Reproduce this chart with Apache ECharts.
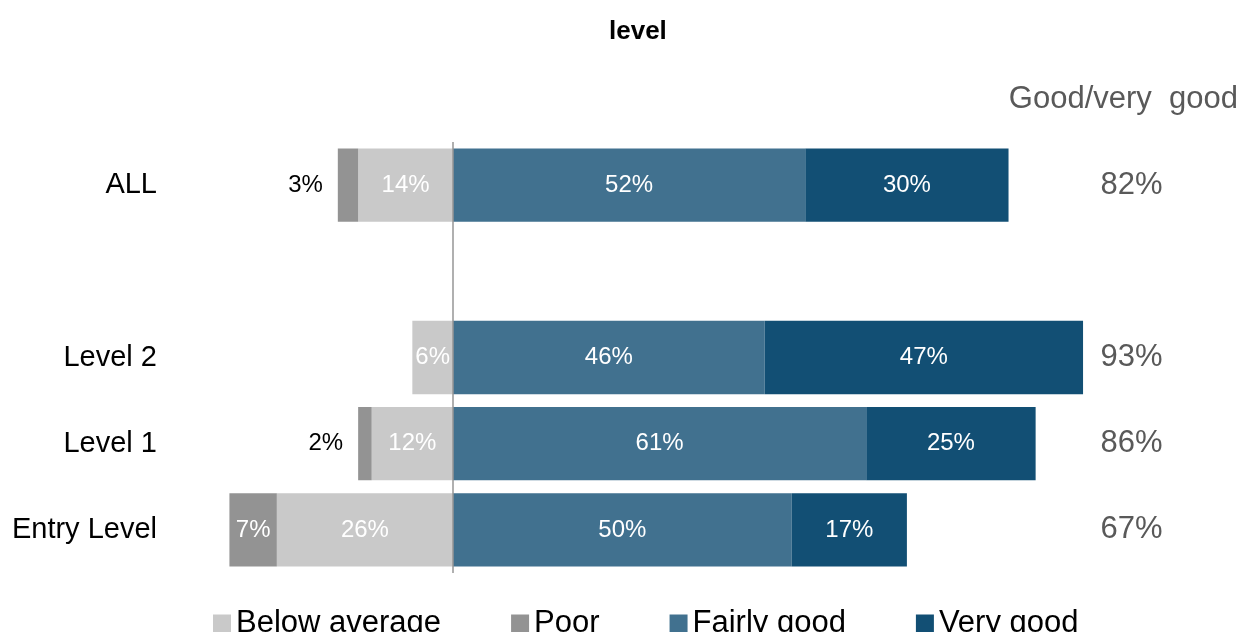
<!DOCTYPE html>
<html>
<head>
<meta charset="utf-8">
<script src="https://cdn.jsdelivr.net/npm/echarts@6/dist/echarts.min.js"></script>
<style>html,body{margin:0;padding:0;background:#fff;}#c{width:1242px;height:632px;}</style>
</head>
<body>
<div id="c"></div>
<script>
const categories = ['ALL', '', 'Level 2', 'Level 1', 'Entry Level'];
const belowAverage = [14, null, 6, 12, 26];
const poor = [3, null, 0, 2, 7];
const fairlyGood = [52, null, 46, 61, 50];
const veryGood = [30, null, 47, 25, 17];
const totals = categories.map((c, i) => fairlyGood[i] == null ? '' : (fairlyGood[i] + veryGood[i]) + '%');

const FONT = '"Liberation Sans", Arial, sans-serif';
const chart = echarts.init(document.getElementById('c'), null, {renderer: 'canvas'});

const insideLabel = {show: true, position: 'inside', color: '#ffffff', fontSize: 24, fontFamily: FONT,
  formatter: p => (p.value ? Math.abs(p.value) + '%' : '')};

const poorData = poor.map(v => {
  if (v == null) return null;
  const item = {value: -v};
  if (v > 0 && v < 5) {
    item.label = {show: true, position: 'left', distance: 15, color: '#000000'};
  }
  return item;
});

chart.setOption({
  animation: false,
  title: {text: 'level', left: 604, top: 14,
    textStyle: {fontSize: 26, fontWeight: 'bold', color: '#000', fontFamily: FONT}},
  graphic: [{type: 'text', right: 4, top: 84,
    style: {text: 'Good/very  good', font: '31px ' + FONT, fill: '#595959'}}],
  legend: {
    data: ['Below average', 'Poor', 'Fairly good', 'Very good'],
    left: 208, top: 603, icon: 'rect', itemWidth: 18, itemHeight: 18, itemGap: 70,
    textStyle: {fontSize: 31, color: '#000', fontFamily: FONT}
  },
  grid: {left: 182, right: 145.4, top: 142, bottom: 59, containLabel: false},
  xAxis: {type: 'value', min: -40, max: 95, show: false},
  yAxis: [
    {type: 'category', data: categories, inverse: true,
      axisLine: {show: false}, axisTick: {show: false}, splitLine: {show: false},
      axisLabel: {fontSize: 29, color: '#000', fontFamily: FONT, margin: 25}},
    {type: 'category', data: totals, inverse: true, position: 'right',
      axisLine: {show: false}, axisTick: {show: false}, splitLine: {show: false},
      axisLabel: {fontSize: 31, color: '#595959', fontFamily: FONT, margin: 4}}
  ],
  series: [
    {name: 'Below average', type: 'bar', stack: 'all', barWidth: '85%', data: belowAverage.map(v => v == null ? null : -v),
      itemStyle: {color: '#c9c9c9'}, label: insideLabel,
      markLine: {silent: true, symbol: 'none', label: {show: false},
        lineStyle: {color: '#969696', width: 1.5, type: 'solid'}, data: [{xAxis: 0}]}},
    {name: 'Poor', type: 'bar', stack: 'all', barWidth: '85%', data: poorData,
      itemStyle: {color: '#939393'}, label: insideLabel},
    {name: 'Fairly good', type: 'bar', stack: 'all', barWidth: '85%', data: fairlyGood,
      itemStyle: {color: '#41718f'}, label: insideLabel},
    {name: 'Very good', type: 'bar', stack: 'all', barWidth: '85%', data: veryGood,
      itemStyle: {color: '#124f74'}, label: insideLabel}
  ]
});
</script>
</body>
</html>
